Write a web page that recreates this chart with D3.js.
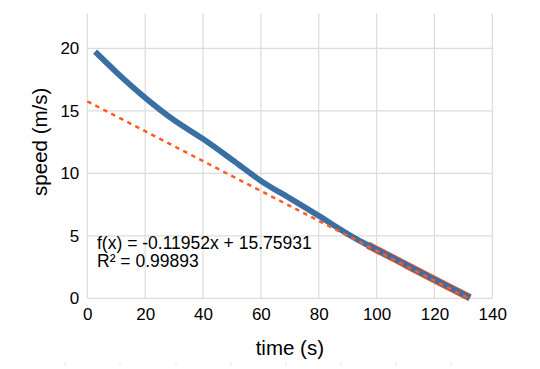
<!DOCTYPE html>
<html>
<head>
<meta charset="utf-8">
<script src="https://cdn.jsdelivr.net/npm/d3@7"></script>
<style>
  html, body { margin: 0; padding: 0; background: #fff; }
  svg { display: block; font-family: "Liberation Sans", Arial, sans-serif; }
</style>
</head>
<body>
<svg id="chart" width="540" height="369"></svg>
<script>
// ---- data ----
const time  = [2.7, 10, 20, 30, 40, 50, 60, 70, 80, 90, 97, 100, 110, 120, 132.3];
const speed = [19.73, 18.1, 16.05, 14.25, 12.75, 11.1, 9.4, 8.0, 6.6, 5.15, 4.25, 3.9, 2.7, 1.5, 0.05];
const fitSlope = -0.11952;
const fitIntercept = 15.75931;
const fitRange = [0, 132.3];
const highlightFrom = 97;
const xTicks = [0, 20, 40, 60, 80, 100, 120, 140];
const yTicks = [0, 5, 10, 15, 20];
const eqLabel = "f(x) = -0.11952x + 15.75931";
const r2Label = "R\u00B2 = 0.99893";
const xTitle = "time (s)";
const yTitle = "speed (m/s)";

const svg = d3.select("#chart");
const x = d3.scaleLinear().domain([0, 140]).range([87.3, 492.3]);
const y = d3.scaleLinear().domain([0, 22.8]).range([298.3, 13.3]);

// grid
const grid = svg.append("g");
grid.selectAll(".vg").data(xTicks).enter().append("line")
  .attr("x1", d => x(d)).attr("x2", d => x(d))
  .attr("y1", y(22.8)).attr("y2", y(0))
  .attr("stroke", "#dcdcdc").attr("stroke-width", 1.2);
grid.selectAll(".hg").data(yTicks).enter().append("line")
  .attr("x1", x(0)).attr("x2", x(140))
  .attr("y1", d => y(d)).attr("y2", d => y(d))
  .attr("stroke", "#dcdcdc").attr("stroke-width", 1.2);

// axes (labels only)
const xAxis = d3.axisBottom(x).tickValues(xTicks).tickSize(0).tickPadding(10);
const gx = svg.append("g").attr("transform", `translate(0,${y(0)})`).call(xAxis);
gx.select(".domain").remove();
gx.selectAll("text").attr("font-size", 17).attr("fill", "#000")
  .attr("font-family", "Liberation Sans, Arial, sans-serif");

const yAxis = d3.axisLeft(y).tickValues(yTicks).tickSize(0).tickPadding(8);
const gy = svg.append("g").attr("transform", `translate(${x(0)},0)`).call(yAxis);
gy.select(".domain").remove();
gy.selectAll("text").attr("font-size", 17).attr("fill", "#000")
  .attr("font-family", "Liberation Sans, Arial, sans-serif");

const pts = time.map((t, i) => [t, speed[i]]);
const line = d3.line().x(d => x(d[0])).y(d => y(d[1])).curve(d3.curveMonotoneX);

// orange highlighted segment underneath
svg.append("path").datum(pts.filter(d => d[0] >= highlightFrom))
  .attr("d", line).attr("fill", "none")
  .attr("stroke", "#ff5a1f").attr("stroke-width", 7.5)
  .attr("stroke-linejoin", "round");

// blue data line
svg.append("path").datum(pts)
  .attr("d", line).attr("fill", "none")
  .attr("stroke", "#3a6fa3").attr("stroke-width", 5.8)
  .attr("stroke-linejoin", "round");

// dashed fit line
const fitPts = fitRange.map(t => [t, fitSlope * t + fitIntercept]);
svg.append("path").datum(fitPts)
  .attr("d", d3.line().x(d => x(d[0])).y(d => y(d[1]))).attr("fill", "none")
  .attr("stroke", "#ff5a1f").attr("stroke-width", 2.5)
  .attr("stroke-dasharray", "4.5,4.5");

// equation text
svg.append("text").attr("x", 97).attr("y", 248.5)
  .attr("font-size", 17.5).attr("fill", "#000").text(eqLabel);
svg.append("text").attr("x", 97).attr("y", 267)
  .attr("font-size", 17.5).attr("fill", "#000").text(r2Label);

// axis titles
svg.append("text").attr("x", (x(0) + x(140)) / 2).attr("y", 355)
  .attr("text-anchor", "middle").attr("font-size", 20.5).attr("fill", "#000").text(xTitle);
svg.append("text")
  .attr("transform", `translate(47,${(y(0) + y(22.8)) / 2 - 14}) rotate(-90)`)
  .attr("text-anchor", "middle").attr("font-size", 20.5).attr("fill", "#000").text(yTitle);

// faint ticks at the very bottom
const faint = [65, 120, 176, 231, 286, 341, 396, 451];
svg.selectAll(".faint").data(faint).enter().append("line")
  .attr("x1", d => d).attr("x2", d => d).attr("y1", 362).attr("y2", 366)
  .attr("stroke", "#e8e8e8").attr("stroke-width", 1);
</script>
</body>
</html>
